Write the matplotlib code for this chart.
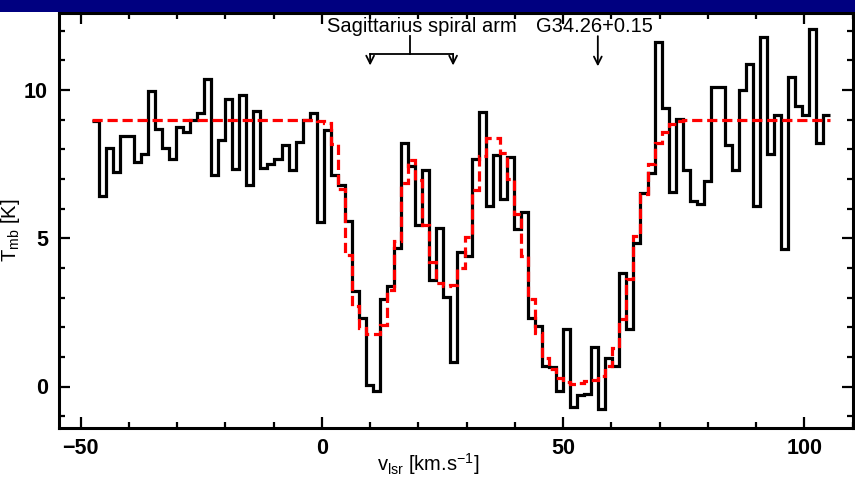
import matplotlib
matplotlib.use("Agg")
import matplotlib.pyplot as plt
import numpy as np
from matplotlib.patches import Rectangle
from matplotlib.ticker import MultipleLocator

plt.rcParams["font.family"] = ["Liberation Sans", "DejaVu Sans"]

# channel grid of the spectrum (lower edge of first channel, channel width, km/s)
v_first_edge = -47.76
dv = 1.459

# observed line temperature per channel (K)
t_obs = [
    8.95, 6.42, 8.04, 7.23, 8.45, 8.45, 7.57, 7.83, 9.96, 8.67,
    8.04, 7.66, 8.75, 8.60, 9.00, 9.23, 10.36, 7.14, 8.32, 9.71,
    7.34, 9.84, 6.80, 9.29, 7.38, 7.51, 7.68, 8.16, 7.32, 8.24,
    9.00, 9.24, 5.54, 8.65, 7.12, 6.80, 5.57, 3.21, 2.30, 0.04,
    -0.15, 2.96, 3.38, 4.66, 8.23, 7.44, 5.44, 7.31, 3.58, 5.36,
    3.03, 0.83, 4.55, 4.41, 7.69, 9.25, 6.10, 7.80, 6.34, 7.75,
    5.30, 5.90, 2.30, 2.04, 0.69, 0.65, -0.16, 1.94, -0.69, -0.27,
    -0.24, 1.33, -0.75, 0.97, 0.69, 3.82, 1.94, 4.85, 6.54, 7.21,
    11.61, 9.41, 6.55, 9.02, 7.32, 6.27, 6.15, 6.94, 10.09, 10.12,
    8.14, 7.30, 10.00, 10.89, 6.09, 11.78, 7.85, 9.15, 4.64, 10.44,
    9.45, 9.17, 12.07, 8.23, 9.17,
]

# model fit per channel (K)
t_model = [
    9.00, 9.00, 9.00, 9.00, 9.00, 9.00, 9.00, 9.00, 9.00, 9.00,
    9.00, 9.00, 9.00, 9.00, 9.00, 9.00, 9.00, 9.00, 9.00, 9.00,
    9.00, 9.00, 9.00, 9.00, 9.00, 9.00, 9.00, 9.00, 9.00, 9.00,
    9.00, 9.00, 8.97, 8.88, 8.18, 6.66, 4.42, 2.72, 1.97, 1.77,
    1.77, 2.09, 3.25, 4.90, 6.88, 7.64, 6.96, 5.45, 4.20, 3.50,
    3.38, 3.42, 4.00, 5.05, 6.64, 7.78, 8.37, 8.37, 7.87, 6.99,
    5.81, 4.40, 2.94, 1.81, 0.97, 0.60, 0.29, 0.14, 0.10, 0.12,
    0.18, 0.23, 0.37, 0.69, 1.31, 2.29, 3.61, 5.08, 6.50, 7.50,
    8.22, 8.59, 8.85, 8.96, 9.00, 9.00, 9.00, 9.00, 9.00, 9.00,
    9.00, 9.00, 9.00, 9.00, 9.00, 9.00, 9.00, 9.00, 9.00, 9.00,
    9.00, 9.00, 9.00, 9.00, 9.00,
]

sgr_arm_label = "Sagittarius spiral arm"
sgr_arm_vel = [10.0, 27.2]
source_label = "G34.26+0.15"
source_vel = 57.2

edges = v_first_edge + dv * np.arange(len(t_obs) + 1)

fig = plt.figure(figsize=(8.55, 4.78), dpi=100)
fig.patches.append(Rectangle((0, 1 - 12 / 478), 1, 12 / 478, transform=fig.transFigure,
                             facecolor="#000080", edgecolor="none", zorder=0))
ax = fig.add_axes([59 / 855, 1 - 428 / 478, (853 - 59) / 855, (428 - 13) / 478])

ax.stairs(t_obs, edges, baseline=None, color="black", lw=2.3, zorder=2)
ax.stairs(t_model, edges, baseline=None, color="#ff0000", lw=2.3, zorder=3,
          linestyle=(0, (3.2, 1.5)))

ax.set_xlim(-54.5, 110.1)
ax.set_ylim(-1.4, 12.6)

ax.xaxis.set_major_locator(MultipleLocator(50))
ax.xaxis.set_minor_locator(MultipleLocator(10))
ax.yaxis.set_major_locator(MultipleLocator(5))
ax.yaxis.set_minor_locator(MultipleLocator(1))
ax.tick_params(which="both", direction="in", top=True, right=True, width=1.6)
ax.tick_params(which="major", length=8)
ax.tick_params(which="minor", length=4.5)
ax.tick_params(axis="x", which="major", pad=7, labelsize=15.5)
ax.tick_params(axis="y", which="major", pad=8, labelsize=15.5)
for lab in ax.get_xticklabels() + ax.get_yticklabels():
    lab.set_fontweight("bold")
for sp in ax.spines.values():
    sp.set_linewidth(2.2)

ax.set_xlabel(r"$\mathregular{v_{lsr}}$ [km.s$^{\mathregular{-1}}$]", fontsize=14.5)
ax.xaxis.set_label_coords(0.465, -0.056)
ax.set_ylabel(r"$\mathregular{T_{mb}}$ [K]", fontsize=14.5)
ax.yaxis.set_label_coords(-0.047, 0.477)

# annotations
mid = 0.5 * (sgr_arm_vel[0] + sgr_arm_vel[1]) - 0.4
ax.text(20.7, 12.13, sgr_arm_label, ha="center", va="center", fontsize=14.5)
ax.text(56.6, 12.13, source_label, ha="center", va="center", fontsize=14.5)
ax.plot([mid, mid], [11.82, 11.22], color="black", lw=1.3)
ax.plot(sgr_arm_vel, [11.22, 11.22], color="black", lw=1.3)
arrow = dict(arrowstyle="->", color="black", lw=1.3, mutation_scale=14, shrinkA=0, shrinkB=0)
for v in sgr_arm_vel:
    ax.annotate("", xy=(v, 10.83), xytext=(v, 11.22), arrowprops=arrow)
ax.annotate("", xy=(source_vel, 10.8), xytext=(source_vel, 11.82), arrowprops=arrow)

fig.savefig("out.png", dpi=100)
